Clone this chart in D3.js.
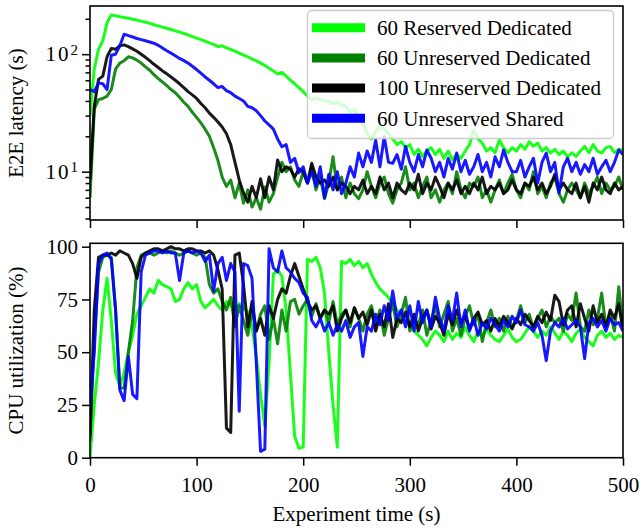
<!DOCTYPE html>
<html lang="en">
<head>
<meta charset="utf-8">
<title>E2E latency and CPU utilization</title>
<script src="https://cdnjs.cloudflare.com/ajax/libs/d3/7.8.5/d3.min.js"></script>
<style>
  body { margin: 0; background: white; }
</style>
</head>
<body>
<div id="chart"></div>
<script>
// sample times (s)
const times = [0,4,8,12,16,20,24,28,32,36,40,44,48,52,56,60,64,68,72,76,80,84,88,92,96,100,104,108,112,116,
  120,124,128,132,136,140,144,148,152,156,160,164,168,172,176,180,184,188,192,196,200,204,208,212,216,220,224,228,232,236,
  240,244,248,252,256,260,264,268,272,276,280,284,288,292,296,300,304,308,312,316,320,324,328,332,336,340,344,348,352,356,
  360,364,368,372,376,380,384,388,392,396,400,404,408,412,416,420,424,428,432,436,440,444,448,452,456,460,464,468,472,476,
  480,484,488,492,496,500];

const seriesNames = ["60 Reserved Dedicated", "60 Unreserved Dedicated", "100 Unreserved Dedicated", "60 Unreserved Shared"];
const seriesColors = ["#00ff00", "#008000", "#000000", "#0000ff"];

// E2E latency (s)
const latReservedDed = [30,75,110,130,185,216,212,208,205,202, 198,195,191,187,183,178,174,170,166,162,
  158,154,150,146,141,137,133,129,125,121, 116,118,113,110,106,102,98,95,91,88,
  84,80,76,72,68,70,65,60,56,52, 48,44,41,42,41,40,40,38,39,37,
  36,32,34,30,26,21,19,22,24,23, 21,19,17,18,16,17,14,15.5,13.5,15,
  16,14,15.5,13,15,12.6,14,13,15,17, 22.5,19,17.5,15,16,14.5,18.6,16,14.5,16,
  15,17,15.5,18,16.5,17.5,15,16,14.4,15.5, 14,15,13.4,14.5,13.5,15,16.4,14.5,17,15,
  14.4,16,16.4,14.5,15.5,15.3];
const latUnresDed = [6,34,41,42,44,50,75,84,88,95, 93,89,84,78,73,67,62,58,54,50,
  47,43,39,36,32,29,26,23,20,16, 12.5,9,7.5,8.5,6,8,5.4,7,5,6,
  4.8,7.4,5.5,6.5,9,12,10,11,8.5,7.5, 10,8,10.9,7,9,5.9,8,13.4,7,9,
  6,8,6.5,5.9,7,10,7.5,6,8,9, 6.5,5.4,7,8,11,7,8,6,7.5,9,
  6,7,5.5,7,8,6.5,10,7,6,8, 7.5,9,6,7,5.5,7,8.5,6.5,8,9.5,
  7,6,8,7,10,6.5,7.5,6,8,9, 6.5,5.5,7,8,7,6,8,6.5,7.5,9,
  6.5,8,7,7.5,9,7];
const latUnres100 = [8.5,36,61,65,95,112,110,118,120,116, 111,106,100,94,88,82,77,72,68,64,
  60,56,52,48,45,42,38,35,31.5,29, 26.5,24,21,17,12,8.5,6.6,5.5,7.5,6,
  8.7,6,9,7,12.6,10,11,10.5,9,10.6, 10,8,11.8,9,8,8.5,7.5,9,7,8,
  7.5,6.5,7.5,7,8.5,6.5,7.5,6.5,9,7, 8,6,8,7,6.5,8,7,9.5,6.5,8,
  7,9,7.5,6,8,7,8.5,6.5,7.5,6.5, 8,7,9,6.5,7.5,7,8,6.5,7,8.5,
  7,6.5,8,7.5,9,7,8,6.5,7.5,9.5, 7,8,7,6.5,8,6,7.5,5.5,8,7,
  9,7,6.5,8,7,7.5];
const latUnresShared = [50,48,57,56,50,98,100,118,148,144, 140,136,133,130,127,124,119,113,107,102,
  97,92,88,84,79,74,69,64,60,56, 52,53,49,47,44,42,40,36,35,33,
  30,27,25,23,19,16.3,17,12,13,9.8, 11,8,10,7.5,11,6,9.5,7,10,6.5,
  8,11,9,14.4,11,15,12,18.6,11,19.9, 12,11.8,14,10.5,16.4,12,10,14,11,15.3,
  13,10,12,9,13,10.5,14.4,10,12.5,9.5, 11,14,10,12,9,13.4,11,15.3,12,10,
  10,12.5,9,11,13,8,12,14.4,10,12, 6.6,11,13,10,12,9.5,11.5,10,13,9.5,
  11,12.5,10,12,15.3,14];

// CPU utilization (%)
const cpuReservedDed = [0,25,45,70,85,65,40,34,40,50, 58,68,72,76,80,78,84,82,81,80,
  74,75,80,83,80,82,74,71,73,75, 72,70,74,72,70,73,71,69,62,48,
  30,15,45,87,89,86,70,40,10,4.5, 5,94,93,95,90,78,50,25,5,93,
  92,94,91,93,90,92,87,83,80,78, 76,73,70,68,66,63,60,58,56,53,
  57,60,58,55,60,56,59,57,62,58, 55,60,57,61,58,56,55,58,61,57,
  55,56,59,62,60,57,60,58,62,59, 56,60,58,55,59,61,57,55,53,58,
  60,57,59,56,58,57];
const cpuUnresDed = [8,55,88,95,96,95,70,33,33,50, 65,90,96,97,97,96,97,98,97,98,
  97,96,97,98,97,96,97,95,82,78, 80,74,70,76,62,72,65,58,70,60,
  68,72,56,66,54,70,60,74,75,68, 72,75,67,73,66,70,64,74,63,68,
  70,62,71,66,60,68,72,63,70,58, 66,73,62,68,76,60,66,63,70,58,
  65,72,62,68,74,60,66,58,67,72, 63,68,55,64,70,62,66,60,67,62,
  65,72,64,68,61,66,70,62,67,64, 66,60,68,65,78,62,60,70,63,66,
  78,62,68,60,81,62];
const cpuUnres100 = [10,70,95,96,96,97,96,98,97,96, 92,85,95,97,98,99,99,98,99,100,
  99,99,98,99,99,98,98,97,98,96, 89,80,14,12,96,97,82,62,74,60,
  66,58,72,66,75,80,78,86,92,86, 80,74,70,72,66,70,68,72,60,66,
  70,64,71,66,69,63,70,60,68,62, 73,57,66,64,69,62,68,60,66,70,
  61,67,64,58,68,63,70,64,67,61, 66,69,63,65,60,66,62,67,64,61,
  66,63,68,65,62,67,64,69,65,77, 74,63,70,72,62,73,66,60,72,64,
  68,62,70,66,73,60];
const cpuUnresShared = [25,50,92,96,97,94,70,32,27,48, 30,28,88,96,97,98,98,97,98,97,
  97,84,97,98,97,98,97,93,96,79, 92,95,84,92,88,22,92,91,85,45,
  3,4,99,90,88,98,90,88,85,83, 78,76,65,62,66,60,64,58,63,60,
  65,57,62,64,48,62,60,68,63,72, 65,79,66,70,62,72,60,74,64,70,
  62,76,66,60,72,65,78,62,70,60, 66,58,64,61,66,63,60,65,62,67,
  64,70,63,62,60,64,58,46,60,64, 62,66,61,63,65,62,47,64,66,62,
  65,60,66,63,64,60];

// ticks
const timeTicks = [0, 100, 200, 300, 400, 500];
const latMajorTicks = [10, 100];
const latMinorTicks = [4, 5, 6, 7, 8, 9, 20, 30, 40, 50, 60, 70, 80, 90, 200];
const cpuTicks = [0, 25, 50, 75, 100];

const latSeries = [latReservedDed, latUnresDed, latUnres100, latUnresShared];
const cpuSeries = [cpuReservedDed, cpuUnresDed, cpuUnres100, cpuUnresShared];

const width = 640, height = 531;
const left = 90, right = 623;
const latTop = 6, latBottom = 220;
const cpuTop = 243.3, cpuBottom = 457.7;
const fontSize = 21;
const serif = "'Liberation Serif', 'Times New Roman', Times, 'DejaVu Serif', serif";

const svg = d3.select("#chart").append("svg")
    .attr("width", width)
    .attr("height", height)
    .attr("font-family", serif);

const x = d3.scaleLinear().domain([0, 500]).range([left, right]);
const yLat = d3.scaleLog().domain([3.88, 257]).range([latBottom, latTop]);
const yCpu = d3.scaleLinear().domain([0, 101.6]).range([cpuBottom, cpuTop]);

function drawLines(id, y, data, top, bottom) {
  svg.append("clipPath").attr("id", id)
    .append("rect")
      .attr("x", left).attr("y", top)
      .attr("width", right - left).attr("height", bottom - top);
  const g = svg.append("g").attr("clip-path", "url(#" + id + ")");
  const line = d3.line()
      .x((d, i) => x(times[i]))
      .y(d => y(d));
  data.forEach((vals, k) => {
    g.append("path")
        .datum(vals)
        .attr("d", line)
        .attr("fill", "none")
        .attr("stroke", seriesColors[k])
        .attr("stroke-width", 3)
        .attr("stroke-opacity", 0.9)
        .attr("stroke-linejoin", "round");
  });
}

drawLines("clip-lat", yLat, latSeries, latTop, latBottom);
drawLines("clip-cpu", yCpu, cpuSeries, cpuTop, cpuBottom);

// legend (upper right of top panel)
const legend = svg.append("g").attr("class", "legend");
legend.append("rect")
    .attr("x", 307.5).attr("y", 10.5)
    .attr("width", 306).attr("height", 128)
    .attr("rx", 4)
    .attr("fill", "white").attr("fill-opacity", 0.8)
    .attr("stroke", "#cccccc").attr("stroke-width", 1.3);
seriesNames.forEach((name, k) => {
  const cy = 27.7 + k * 30.2;
  legend.append("line")
      .attr("x1", 312).attr("x2", 365)
      .attr("y1", cy).attr("y2", cy)
      .attr("stroke", seriesColors[k])
      .attr("stroke-width", 9);
  legend.append("text")
      .attr("x", 377).attr("y", cy + 7.3)
      .attr("font-family", serif)
      .attr("font-size", fontSize)
      .text(name);
});

// axes
function styleAxis(g) {
  g.select(".domain").remove();
  g.attr("font-family", serif).attr("font-size", fontSize);
  g.selectAll(".tick line").attr("stroke", "black").attr("stroke-width", 1.5);
  g.selectAll(".tick text").attr("fill", "black");
}

[latBottom, cpuBottom].forEach((yPos, k) => {
  const ax = d3.axisBottom(x)
      .tickValues(timeTicks)
      .tickSize(8)
      .tickPadding(11.3)
      .tickFormat(k === 1 ? d3.format("d") : () => "");
  svg.append("g")
      .attr("transform", "translate(0," + yPos + ")")
      .call(ax)
      .call(styleAxis);
});

svg.append("g")
    .attr("transform", "translate(" + left + ",0)")
    .call(d3.axisLeft(yCpu).tickValues(cpuTicks).tickSize(8).tickPadding(4))
    .call(styleAxis);

svg.append("g")
    .attr("transform", "translate(" + left + ",0)")
    .call(d3.axisLeft(yLat).tickValues(latMinorTicks).tickSize(4.5).tickFormat(() => ""))
    .call(styleAxis);

const latMajor = svg.append("g")
    .attr("transform", "translate(" + left + ",0)")
    .call(d3.axisLeft(yLat).tickValues(latMajorTicks).tickSize(8).tickFormat(() => ""))
    .call(styleAxis);

latMajor.selectAll(".tick").each(function(d) {
  const t = d3.select(this).append("text")
      .attr("x", -12).attr("dy", "0.32em")
      .attr("text-anchor", "end")
      .attr("fill", "black")
      .attr("letter-spacing", 2);
  t.append("tspan").text("10");
  t.append("tspan")
      .attr("dy", "-0.45em")
      .attr("font-size", 15)
      .attr("letter-spacing", 0)
      .text(Math.round(Math.log10(d)));
});

// panel frames
[[latTop, latBottom], [cpuTop, cpuBottom]].forEach(([t, b]) => {
  svg.append("rect")
      .attr("x", left).attr("y", t)
      .attr("width", right - left).attr("height", b - t)
      .attr("fill", "none")
      .attr("stroke", "black")
      .attr("stroke-width", 1.6);
});

// axis titles
svg.append("text")
    .attr("transform", "translate(22.5," + (latTop + latBottom) / 2 + ") rotate(-90)")
    .attr("text-anchor", "middle")
    .attr("font-size", fontSize)
    .text("E2E latency (s)");

svg.append("text")
    .attr("transform", "translate(22.5," + (cpuTop + cpuBottom) / 2 + ") rotate(-90)")
    .attr("text-anchor", "middle")
    .attr("font-size", fontSize)
    .text("CPU utilization (%)");

svg.append("text")
    .attr("x", (left + right) / 2).attr("y", 521)
    .attr("text-anchor", "middle")
    .attr("font-size", fontSize)
    .text("Experiment time (s)");
</script>
</body>
</html>
